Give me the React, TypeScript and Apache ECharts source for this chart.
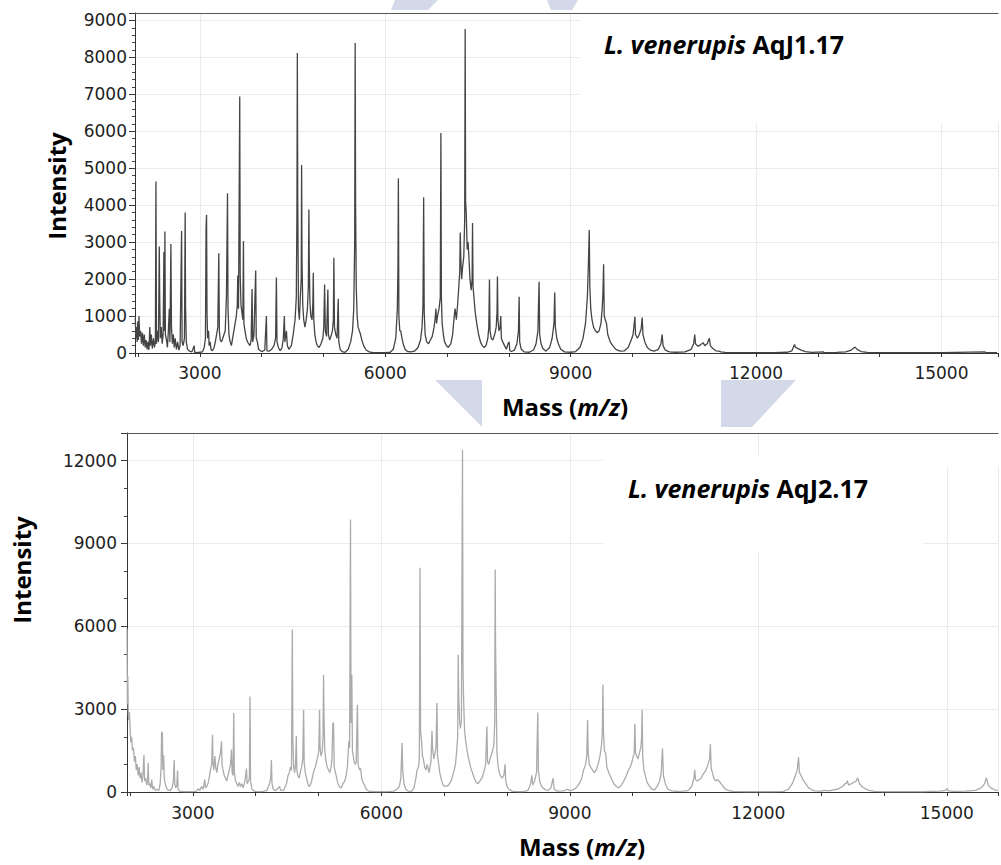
import React, { useEffect, useRef } from "react";
import * as echarts from "echarts";

// ---------- Data: spectrum of L. venerupis AqJ1.17 (mass m/z, intensity) ----------
const topSpectrumA: [number, number][] = [
  [1955, 950], [1965, 400], [1975, 700], [1985, 300], [1995, 850], [2005, 350], [2015, 1000], [2025, 450],
  [2040, 600], [2055, 250], [2070, 550], [2085, 200], [2100, 500], [2115, 150], [2130, 350], [2145, 100],
  [2160, 300], [2175, 80], [2190, 700], [2200, 200], [2215, 500], [2230, 120], [2250, 400], [2265, 150],
  [2280, 300], [2289, 4640], [2298, 250], [2315, 600], [2330, 300], [2343, 2880], [2350, 1500], [2360, 400],
  [2375, 700], [2390, 250], [2405, 500], [2418, 2735], [2426, 600], [2434, 3285], [2442, 500], [2460, 350],
  [2475, 150], [2490, 600], [2505, 1200], [2515, 300], [2531, 2950], [2540, 700], [2555, 250], [2570, 500],
  [2585, 150], [2600, 400], [2620, 100], [2640, 300], [2660, 80], [2680, 200], [2704, 3300], [2712, 300],
  [2730, 200], [2750, 400], [2762, 3800], [2768, 1300], [2780, 300], [2800, 100], [2830, 50], [2870, 30],
  [2908, 200], [2915, 20], [2960, 10], [3000, 20],
];
const topSpectrumB: [number, number][] = [
  [3040, 30], [3070, 150], [3090, 400], [3100, 3400], [3108, 3740], [3115, 1100], [3125, 400], [3140, 600],
  [3150, 200], [3165, 300], [3180, 100], [3200, 60], [3230, 150], [3250, 300], [3270, 500], [3290, 700],
  [3306, 2700], [3315, 600], [3330, 350], [3350, 300], [3370, 400], [3390, 500], [3410, 600], [3430, 1550],
  [3447, 4325], [3455, 1200], [3470, 500], [3490, 300], [3510, 200], [3530, 400], [3550, 600], [3570, 800],
  [3590, 1000], [3605, 1300], [3613, 2100], [3625, 1200], [3645, 6940], [3652, 2150], [3665, 1300], [3680, 1100],
  [3695, 900], [3705, 3030], [3712, 800], [3730, 600], [3750, 400], [3770, 300], [3790, 250], [3810, 200],
  [3830, 350], [3844, 1730], [3855, 300], [3875, 500], [3903, 2230], [3912, 400], [3930, 300], [3950, 100],
  [3980, 60], [4010, 40],
];
const topSpectrumC: [number, number][] = [
  [4050, 80], [4076, 1000], [4085, 60], [4120, 50], [4160, 100], [4200, 200], [4225, 400], [4238, 2040],
  [4248, 300], [4270, 150], [4300, 60], [4330, 150], [4350, 400], [4367, 1000], [4375, 300], [4400, 600],
  [4415, 200], [4440, 100], [4480, 200], [4510, 500], [4540, 900], [4560, 1500], [4570, 3700], [4577, 8115],
  [4584, 4100], [4595, 1200], [4610, 900], [4625, 1500], [4640, 2000], [4646, 5090], [4653, 2450], [4665, 1300],
  [4680, 900], [4700, 700], [4720, 900], [4740, 1200], [4755, 1800], [4764, 3880], [4770, 2500], [4780, 1400],
  [4795, 1000], [4815, 900], [4828, 1350], [4835, 2170], [4843, 900], [4860, 500], [4880, 300], [4900, 200],
  [4930, 150], [4960, 250], [4990, 400], [5005, 700], [5018, 1850], [5030, 600], [5050, 450], [5071, 1720],
  [5080, 500], [5100, 350], [5120, 450], [5145, 600], [5160, 900], [5168, 2580], [5178, 700], [5200, 500],
  [5220, 400], [5239, 1470], [5248, 300], [5270, 100], [5300, 40], [5350, 20], [5400, 100], [5440, 300],
  [5470, 600], [5490, 1200], [5505, 3000], [5513, 8385], [5520, 3950], [5530, 1800], [5545, 1000], [5560, 700],
  [5580, 600], [5600, 500], [5620, 350], [5650, 200], [5690, 80], [5740, 30], [5800, 10], [5900, 10], [6000, 10],
];
const topSpectrumD: [number, number][] = [
  [6080, 20], [6130, 100], [6170, 400], [6195, 1200], [6205, 2300], [6212, 4730], [6220, 1000], [6235, 600],
  [6250, 600], [6270, 400], [6290, 250], [6320, 100], [6360, 40], [6420, 30], [6480, 60], [6530, 150],
  [6570, 350], [6595, 700], [6610, 1300], [6621, 4215], [6630, 1100], [6645, 500], [6670, 300], [6700, 250],
  [6730, 350], [6760, 450], [6790, 700], [6805, 900], [6820, 1200], [6830, 800], [6845, 1000], [6870, 1200],
  [6890, 1500], [6900, 5950], [6908, 1500], [6920, 800], [6940, 500], [6960, 300], [6990, 200], [7020, 150],
  [7060, 250], [7090, 500], [7110, 900], [7130, 1200], [7150, 900], [7170, 1300], [7190, 1800], [7205, 2200],
  [7213, 3260], [7222, 2600], [7235, 2000], [7250, 2300], [7270, 2600], [7285, 3600], [7293, 8765], [7300, 4100],
  [7310, 3800], [7325, 2800], [7340, 3000], [7355, 2550], [7370, 2000], [7390, 1700], [7405, 2000], [7412, 3520],
  [7420, 1800], [7435, 1500], [7455, 1100], [7480, 800], [7510, 500], [7540, 300], [7570, 200], [7600, 150],
  [7630, 200], [7660, 400], [7675, 700], [7686, 1990], [7695, 600], [7715, 400], [7740, 350], [7770, 500],
  [7795, 700], [7808, 1100], [7815, 2070], [7823, 900], [7840, 600], [7858, 700], [7869, 1000], [7878, 400],
  [7900, 300], [7930, 200], [7960, 100], [7985, 250], [8004, 300], [8015, 60],
];
const topSpectrumE: [number, number][] = [
  [8040, 40], [8090, 80], [8130, 250], [8155, 600], [8166, 1520], [8175, 300], [8200, 100], [8250, 30],
  [8330, 20], [8400, 80], [8440, 250], [8470, 600], [8489, 1930], [8498, 500], [8520, 250], [8550, 120],
  [8600, 50], [8660, 150], [8700, 400], [8730, 800], [8742, 1640], [8752, 700], [8775, 400], [8800, 250],
  [8840, 100], [8900, 30], [9000, 20], [9080, 40], [9150, 150], [9200, 400], [9240, 800], [9270, 1500],
  [9285, 2300], [9301, 3330], [9310, 1800], [9325, 1200], [9345, 900], [9370, 700], [9400, 600], [9430, 550],
  [9460, 600], [9490, 800], [9510, 1200], [9522, 1600], [9533, 2400], [9543, 1000], [9560, 900], [9580, 800],
  [9600, 500], [9640, 300], [9680, 200], [9730, 100], [9800, 50], [9870, 60], [9930, 150], [9980, 350],
  [10010, 500], [10039, 980], [10050, 500], [10080, 400], [10110, 500], [10140, 650], [10157, 960], [10170, 500],
  [10200, 300], [10240, 150], [10290, 80], [10350, 50], [10420, 100], [10460, 250], [10480, 500], [10495, 200],
  [10530, 80], [10600, 30],
];
const topSpectrumF: [number, number][] = [
  [10700, 20], [10850, 30], [10950, 100], [10990, 250], [11008, 500], [11020, 250], [11060, 180], [11100, 220],
  [11142, 280], [11170, 200], [11210, 250], [11244, 400], [11260, 200], [11300, 120], [11350, 60], [11400, 50],
  [11430, 30], [11500, 15], [11700, 10], [12000, 10], [12300, 10], [12500, 20], [12580, 60], [12622, 230],
  [12640, 150], [12680, 120], [12730, 80], [12800, 40], [12900, 15], [13090, 30], [13100, 10], [13300, 15],
  [13450, 30], [13540, 80], [13601, 160], [13640, 90], [13700, 40], [13800, 15], [14000, 10], [15000, 10],
  [15700, 30], [15720, 10], [15900, 10],
];

// ---------- Data: spectrum of L. venerupis AqJ2.17 ----------
const bottomSpectrumA: [number, number][] = [
  [1953, 5900], [1958, 3200], [1965, 4200], [1972, 2900], [1980, 2600], [1990, 2900], [2000, 2400], [2012, 1800],
  [2025, 2000], [2040, 1500], [2055, 1600], [2070, 1100], [2085, 1300], [2100, 800], [2115, 1000], [2130, 600],
  [2145, 900], [2160, 500], [2175, 700], [2190, 350], [2205, 600], [2222, 1340], [2232, 400], [2250, 500],
  [2265, 250], [2280, 400], [2290, 1060], [2298, 250], [2315, 300], [2330, 150], [2345, 450], [2360, 100],
  [2380, 200], [2400, 60], [2430, 100], [2460, 60], [2480, 300], [2495, 900], [2503, 2190], [2510, 1300],
  [2515, 2150], [2522, 800], [2535, 1330], [2545, 500], [2560, 300], [2580, 150], [2600, 80], [2640, 50],
  [2670, 150], [2690, 400], [2703, 1160], [2712, 300], [2730, 150], [2745, 250], [2757, 780], [2765, 100],
  [2790, 30], [2850, 10], [2950, 10],
];
const bottomSpectrumB: [number, number][] = [
  [3050, 20], [3090, 120], [3110, 50], [3140, 200], [3160, 100], [3175, 250], [3191, 460], [3200, 150],
  [3220, 200], [3240, 300], [3260, 500], [3280, 800], [3300, 1000], [3313, 2070], [3320, 1060], [3335, 800],
  [3350, 1300], [3365, 900], [3380, 700], [3400, 1000], [3420, 1200], [3440, 1420], [3456, 1840], [3465, 1000],
  [3480, 800], [3500, 600], [3520, 500], [3540, 400], [3560, 600], [3580, 800], [3600, 1000], [3615, 1540],
  [3625, 700], [3640, 600], [3651, 2860], [3660, 700], [3680, 400], [3700, 300], [3720, 200], [3740, 350],
  [3760, 200], [3780, 300], [3800, 150], [3830, 400], [3853, 850], [3865, 300], [3885, 400], [3900, 500],
  [3910, 3460], [3918, 400], [3940, 100], [3970, 40], [4000, 20],
];
const bottomSpectrumC: [number, number][] = [
  [4050, 10], [4120, 20], [4180, 60], [4220, 300], [4240, 500], [4250, 1160], [4260, 300], [4280, 100],
  [4320, 50], [4380, 200], [4400, 50], [4450, 80], [4490, 300], [4515, 600], [4535, 700], [4555, 900],
  [4570, 780], [4583, 5880], [4592, 1840], [4605, 900], [4620, 700], [4635, 1000], [4647, 2030], [4655, 800],
  [4670, 600], [4690, 500], [4710, 700], [4730, 900], [4750, 1200], [4763, 2980], [4772, 1060], [4790, 700],
  [4810, 500], [4830, 300], [4850, 200], [4870, 250], [4890, 400], [4910, 600], [4930, 800], [4950, 900],
  [4970, 1100], [4990, 1300], [5005, 1500], [5017, 2980], [5025, 1600], [5040, 1300], [5060, 1500], [5072, 2000],
  [5080, 4250], [5088, 2690], [5100, 1500], [5120, 1100], [5140, 900], [5160, 800], [5180, 700], [5200, 900],
  [5215, 1200], [5228, 2500], [5239, 2490], [5250, 900], [5270, 700], [5290, 500], [5310, 300], [5330, 200],
  [5360, 150], [5390, 300], [5420, 400], [5440, 600], [5460, 900], [5482, 1840], [5495, 1600], [5509, 9870],
  [5518, 2500], [5530, 4250], [5540, 1500], [5560, 1200], [5580, 1000], [5600, 1060], [5620, 3160], [5630, 1000],
  [5650, 800], [5670, 850], [5690, 450], [5720, 300], [5760, 100], [5800, 30], [5900, 10], [6000, 10],
];
const bottomSpectrumD: [number, number][] = [
  [6100, 10], [6200, 30], [6250, 100], [6290, 230], [6310, 500], [6330, 1770], [6340, 780], [6360, 300],
  [6390, 100], [6430, 30], [6480, 20], [6520, 150], [6550, 500], [6570, 800], [6590, 900], [6605, 1200],
  [6616, 8120], [6625, 2210], [6640, 1840], [6655, 1300], [6670, 1180], [6690, 900], [6710, 800], [6730, 1000],
  [6760, 700], [6790, 1100], [6806, 2210], [6815, 1600], [6835, 1200], [6855, 1400], [6870, 1600], [6885, 3220],
  [6895, 1300], [6910, 1060], [6930, 700], [6960, 400], [6990, 230], [7030, 200], [7070, 250], [7110, 400],
  [7150, 700], [7180, 1000], [7200, 1500], [7215, 2000], [7224, 4970], [7232, 3460], [7245, 2600], [7260, 2300],
  [7275, 2600], [7285, 8730], [7292, 12390], [7300, 4500], [7310, 3300], [7325, 2210], [7345, 1800], [7365, 1500],
  [7390, 1200], [7420, 900], [7450, 700], [7480, 500], [7510, 350], [7540, 300], [7570, 400], [7600, 500],
  [7630, 700], [7660, 1000], [7680, 2370], [7690, 1100], [7710, 1000], [7730, 1200], [7760, 1400], [7790, 1700],
  [7805, 2500], [7812, 8060], [7818, 5280], [7826, 3900], [7840, 1420], [7860, 900], [7890, 600], [7920, 500],
  [7950, 600], [7970, 1000], [7980, 400], [8000, 200],
];
const bottomSpectrumE: [number, number][] = [
  [8030, 100], [8080, 30], [8150, 10], [8250, 10], [8330, 50], [8360, 200], [8380, 350], [8394, 600],
  [8410, 250], [8440, 400], [8470, 700], [8490, 2880], [8500, 780], [8520, 400], [8550, 200], [8600, 100],
  [8650, 50], [8700, 150], [8733, 500], [8750, 100], [8800, 30], [8900, 40], [8960, 100], [9000, 50],
  [9050, 80], [9100, 150], [9150, 300], [9190, 500], [9220, 800], [9250, 1000], [9270, 1300], [9283, 2610],
  [9292, 1420], [9310, 1000], [9330, 900], [9360, 800], [9390, 700], [9420, 800], [9450, 1000], [9480, 1300],
  [9505, 1700], [9518, 2200], [9527, 3890], [9535, 2200], [9550, 1500], [9570, 1400], [9590, 900], [9620, 700],
  [9660, 500], [9700, 300], [9740, 200], [9780, 150], [9820, 250], [9860, 400], [9900, 600], [9930, 780],
  [9960, 900], [9990, 1100], [10010, 1300], [10025, 1400], [10035, 2470], [10045, 1420], [10065, 1300], [10085, 1200],
  [10105, 1400], [10130, 1600], [10143, 2000], [10151, 2980], [10160, 1300], [10180, 800], [10200, 600], [10230, 350],
  [10270, 200], [10310, 100], [10350, 80], [10390, 200], [10430, 400], [10455, 700], [10475, 1580], [10490, 600],
  [10520, 300], [10560, 100], [10620, 40],
];
const bottomSpectrumF: [number, number][] = [
  [10700, 20], [10800, 30], [10880, 50], [10940, 200], [10975, 500], [10988, 800], [11000, 450], [11030, 400],
  [11060, 450], [11090, 500], [11110, 600], [11140, 700], [11170, 800], [11200, 1000], [11225, 1200], [11237, 1730],
  [11250, 850], [11270, 700], [11290, 500], [11320, 400], [11350, 450], [11380, 380], [11410, 300], [11440, 200],
  [11480, 100], [11530, 50], [11600, 20], [11800, 10], [12000, 10], [12200, 10], [12400, 20], [12480, 100],
  [12540, 300], [12590, 600], [12620, 800], [12640, 1260], [12655, 700], [12680, 600], [12710, 450], [12740, 350],
  [12770, 250], [12800, 150], [12850, 80], [12900, 40], [13000, 30], [13060, 60], [13120, 40], [13200, 80],
  [13260, 100], [13300, 150], [13340, 200], [13380, 300], [13400, 300], [13417, 410], [13440, 250], [13480, 300],
  [13520, 350], [13560, 400], [13581, 520], [13610, 300], [13650, 200], [13700, 120], [13760, 60], [13850, 20],
  [14000, 10], [14300, 10], [14600, 10], [14900, 30], [14980, 60], [15000, 120], [15030, 40], [15100, 20],
  [15300, 30], [15450, 60], [15520, 120], [15570, 200], [15600, 300], [15630, 520], [15660, 250], [15700, 150],
  [15760, 80], [15810, 50],
];

const topSpectrum = [...topSpectrumA, ...topSpectrumB, ...topSpectrumC, ...topSpectrumD, ...topSpectrumE, ...topSpectrumF];
const bottomSpectrum = [
  ...bottomSpectrumA, ...bottomSpectrumB, ...bottomSpectrumC, ...bottomSpectrumD, ...bottomSpectrumE, ...bottomSpectrumF,
];

// ---------- Axis ranges and tick labels ----------
const topMassRange = [1950, 15915];
const bottomMassRange = [1952, 15815];
const topIntensityMax = 9200;
const bottomIntensityMax = 13000;
const massTickLabels = [3000, 6000, 9000, 12000, 15000];
const topIntensityTickLabels = [0, 1000, 2000, 3000, 4000, 5000, 6000, 7000, 8000, 9000];
const bottomIntensityTickLabels = [0, 3000, 6000, 9000, 12000];

// ---------- Texts ----------
const yTitle = "Intensity";
const xTitleParts = ["Mass (", "m/z", ")"];
const topSpecies = ["L. venerupis", "AqJ1.17"];
const bottomSpecies = ["L. venerupis", "AqJ2.17"];

const tickFont = "DejaVu Sans";
const titleFont = "Open Sans";
const gridColor = "#ebebeb";
const watermark = "#d3d9e9";

function buildOption(): any {
  const grids = [
    { left: 135, top: 13, width: 865, height: 340 },
    { left: 127, top: 433, width: 873, height: 359 },
  ];
  const massRanges = [topMassRange, bottomMassRange];
  const yMax = [topIntensityMax, bottomIntensityMax];
  const yMajor = [1000, 3000];
  const yMinor = [200, 1000];
  const yLabels = [topIntensityTickLabels, bottomIntensityTickLabels];
  const yLabelMargin = [8, 10];
  const xLabelMargin = [11, 12];

  const xAxis: any[] = [];
  const yAxis: any[] = [];
  for (let g = 0; g < 2; g++) {
    xAxis.push({
      type: "value",
      gridIndex: g,
      position: "bottom",
      min: massRanges[g][0],
      max: massRanges[g][1],
      minInterval: 1000,
      maxInterval: 1000,
      axisLine: { show: true, onZero: false, lineStyle: { color: "#333", width: 1 } },
      axisTick: { show: true, length: 4, lineStyle: { color: "#333" } },
      axisLabel: {
        formatter: (v: number) => (massTickLabels.includes(v) ? String(v) : ""),
        fontSize: 17,
        fontFamily: tickFont,
        color: "#1e1e1e",
        margin: xLabelMargin[g],
      },
      splitLine: { show: false },
    });
    xAxis.push({
      type: "value",
      gridIndex: g,
      position: "top",
      min: massRanges[g][0],
      max: massRanges[g][1],
      minInterval: 3000,
      maxInterval: 3000,
      axisLine: { show: true, onZero: false, lineStyle: { color: "#555", width: 1 } },
      axisTick: { show: false },
      axisLabel: { show: false },
      splitLine: { show: true, lineStyle: { color: gridColor, width: 1 } },
    });
    yAxis.push({
      type: "value",
      gridIndex: g,
      position: "left",
      min: 0,
      max: yMax[g],
      interval: yMajor[g],
      axisLine: { show: true, onZero: false, lineStyle: { color: "#333", width: 1 } },
      axisTick: { show: true, length: 6, lineStyle: { color: "#333" } },
      axisLabel: {
        formatter: (v: number) => (yLabels[g].includes(v) ? String(v) : ""),
        fontSize: 17,
        fontFamily: tickFont,
        color: "#1e1e1e",
        margin: yLabelMargin[g],
      },
      splitLine: { show: true, lineStyle: { color: gridColor, width: 1 } },
    });
    yAxis.push({
      type: "value",
      gridIndex: g,
      position: "left",
      min: 0,
      max: yMax[g],
      interval: yMinor[g],
      axisLine: { show: false },
      axisTick: { show: true, length: 3, lineStyle: { color: "#444" } },
      axisLabel: { show: false },
      splitLine: { show: false },
    });
  }

  const richOf = (size: number) => ({
    i: { fontFamily: titleFont, fontWeight: "bold", fontStyle: "italic", fontSize: size, fill: "#000" },
    b: { fontFamily: titleFont, fontWeight: "bold", fontSize: size, fill: "#000" },
  });

  const textEl = (x: number, y: number, text: string, size: number, rotation = 0) => ({
    type: "text",
    x,
    y,
    rotation,
    z: 10,
    silent: true,
    style: {
      text,
      rich: richOf(size),
      font: `bold ${size}px "${titleFont}"`,
      fill: "#000",
      align: "center",
      verticalAlign: "middle",
      textAlign: "center",
      textVerticalAlign: "middle",
    },
  });

  const graphic: any[] = [
    // watermark fragments
    { type: "polygon", z: 0, silent: true, shape: { points: [[395, 0], [438, 0], [428, 10], [391, 10]] }, style: { fill: watermark } },
    { type: "polygon", z: 0, silent: true, shape: { points: [[547, 0], [578, 0], [572, 10], [551, 10]] }, style: { fill: watermark } },
    { type: "polygon", z: 0, silent: true, shape: { points: [[435, 380], [482, 380], [482, 427]] }, style: { fill: watermark } },
    { type: "polygon", z: 0, silent: true, shape: { points: [[721, 380], [796, 380], [752, 427], [721, 427]] }, style: { fill: watermark } },
    // white boxes behind the sample labels (interrupting gridlines)
    { type: "rect", z: 1, silent: true, shape: { x: 580, y: 14, width: 421, height: 109 }, style: { fill: "#fff" } },
    { type: "rect", z: 1, silent: true, shape: { x: 603, y: 455, width: 320, height: 96 }, style: { fill: "#fff" } },
    { type: "rect", z: 1, silent: true, shape: { x: 923, y: 434, width: 78, height: 33 }, style: { fill: "#fff" } },
    // titles
    textEl(56, 186, `{b|${yTitle}}`, 24, Math.PI / 2),
    textEl(21, 570, `{b|${yTitle}}`, 24, Math.PI / 2),
    textEl(565, 406, `{b|${xTitleParts[0]}}{i|${xTitleParts[1]}}{b|${xTitleParts[2]}}`, 24),
    textEl(582, 846, `{b|${xTitleParts[0]}}{i|${xTitleParts[1]}}{b|${xTitleParts[2]}}`, 24),
    textEl(724, 44, `{i|${topSpecies[0]}} {b|${topSpecies[1]}}`, 25),
    textEl(748, 488, `{i|${bottomSpecies[0]}} {b|${bottomSpecies[1]}}`, 25),
  ];

  return {
    animation: false,
    backgroundColor: "#fff",
    grid: grids,
    xAxis,
    yAxis,
    graphic,
    series: [
      {
        type: "line",
        xAxisIndex: 0,
        yAxisIndex: 0,
        data: topSpectrum,
        symbol: "none",
        showSymbol: false,
        silent: true,
        z: 3,
        lineStyle: { color: "#444444", width: 1.3 },
      },
      {
        type: "line",
        xAxisIndex: 2,
        yAxisIndex: 2,
        data: bottomSpectrum,
        symbol: "none",
        showSymbol: false,
        silent: true,
        z: 3,
        lineStyle: { color: "#ababab", width: 1.3 },
      },
    ],
  };
}

export default function App() {
  const ref = useRef<HTMLDivElement>(null);
  useEffect(() => {
    document.body.style.margin = "0";
    const chart = echarts.init(ref.current!, undefined, { renderer: "svg" });
    chart.setOption(buildOption());
    return () => chart.dispose();
  }, []);
  return (
    <div
      ref={ref}
      style={{ position: "absolute", left: 0, top: 0, width: 1001, height: 865, background: "#fff" }}
    />
  );
}
